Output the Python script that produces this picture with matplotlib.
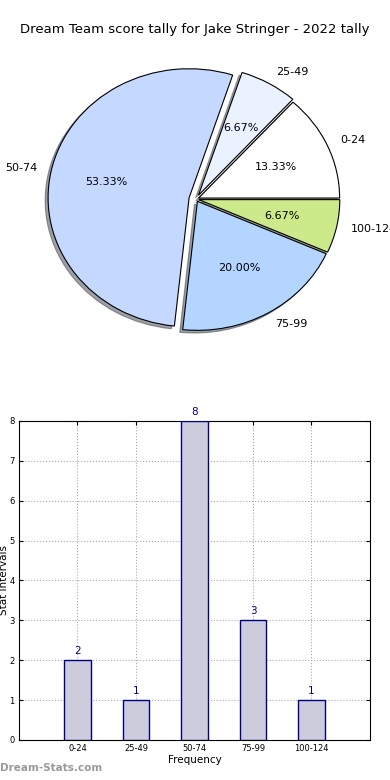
import matplotlib
matplotlib.use('Agg')
import matplotlib.pyplot as plt

# score intervals and counts
intervals = ['0-24', '25-49', '50-74', '75-99', '100-124']
counts = [2, 1, 8, 3, 1]
pie_colors = ['#ffffff', '#eaf1ff', '#c5d8ff', '#b3d5ff', '#ccea8a']
explode = [0.02, 0.035, 0.05, 0.02, 0.02]

title = 'Dream Team score tally for Jake Stringer - 2022 tally'

fig = plt.figure(figsize=(3.9, 7.8), dpi=100)
fig.text(0.5, 0.962, title, ha='center', va='center', fontsize=9.5)

# pie, stretched like the old non-equal aspect pies
ax1 = fig.add_axes([0.0506, 0.538, 0.904, 0.4135])
wedges, texts, autotexts = ax1.pie(counts, labels=intervals, colors=pie_colors,
                                   explode=explode, autopct='%.2f%%',
                                   shadow={'ox': -0.015, 'oy': -0.015},
                                   startangle=0, textprops={'fontsize': 8},
                                   wedgeprops={'linewidth': 0.8, 'edgecolor': 'black'})
ax1.set_aspect('auto')
ax1.set_xlim(-1.25, 1.25)
ax1.set_ylim(-1.25, 1.25)
ax1.axis('off')

# bar chart
ax2 = fig.add_axes([0.0487, 0.0513, 0.9, 0.409])
x = list(range(len(intervals)))
ax2.bar(x, counts, width=0.45, color='#ccccdd', edgecolor='navy', linewidth=1, zorder=3)
for xi, c in zip(x, counts):
    ax2.text(xi, c + 0.1, str(c), ha='center', va='bottom', color='navy', fontsize=7.5)
ax2.set_xlim(-1, 5)
ax2.set_ylim(0, 8)
ax2.set_xticks(x)
ax2.set_xticklabels(intervals)
ax2.tick_params(labelsize=6, direction='in', top=True, right=True, length=3, pad=3)
ax2.grid(True, linestyle=':', color='#aaaaaa', linewidth=0.8, zorder=0)
ax2.set_xlabel('Frequency', fontsize=7.5, labelpad=1)
ax2.set_ylabel('Stat intervals', fontsize=7.5)
ax2.yaxis.set_label_coords(-0.028, 0.5)

fig.text(0.0, 0.012, 'Dream-Stats.com', color='#999999', fontsize=7.5, fontweight='bold')

fig.savefig('out.png', dpi=100)
